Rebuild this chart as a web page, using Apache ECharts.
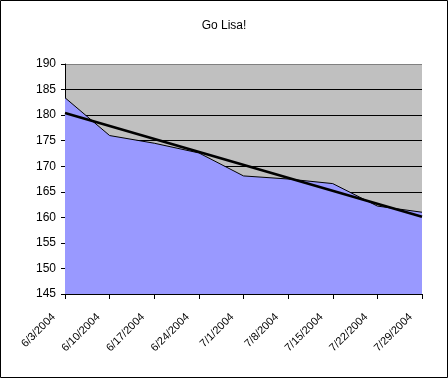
<!DOCTYPE html>
<html>
<head>
<meta charset="utf-8">
<script src="https://cdn.jsdelivr.net/npm/echarts@6/dist/echarts.min.js"></script>
<style>
    body{margin:0;background:#fff;}
    #chart{width:448px;height:378px;}
</style>
</head>
<body>
<div id="chart"></div>
<script>
    // weekly weigh-ins
    var dates = ['6/3/2004','6/10/2004','6/17/2004','6/24/2004','7/1/2004','7/8/2004','7/15/2004','7/22/2004','7/29/2004'];
    var weight = [183.4, 176.0, 174.5, 172.6, 168.1, 167.5, 166.6, 162.2, 161.0];
    // linear trendline end points
    var trendStart = 180.4;
    var trendEnd = 160.1;

    var myChart = echarts.init(document.getElementById('chart'));

    var font = "'Liberation Sans', Arial, sans-serif";

    var option = {
        animation: false,
        title: {
            text: 'Go Lisa!',
            left: 'center',
            top: 15,
            textStyle: {fontFamily: font, fontSize: 12, fontWeight: 'normal', color: '#000'}
        },
        graphic: [{
            type: 'rect',
            shape: {x: 0.5, y: 0.5, width: 447, height: 377},
            style: {fill: 'none', stroke: '#000', lineWidth: 1},
            silent: true
        }],
        grid: {
            left: 65, right: 26, top: 64, bottom: 84,
            show: true,
            backgroundColor: '#C0C0C0',
            borderWidth: 0
        },
        xAxis: {
            type: 'category',
            data: dates,
            boundaryGap: false,
            axisLine: {lineStyle: {color: '#000', width: 1}},
            axisTick: {show: true, length: 5, lineStyle: {color: '#000'}},
            axisLabel: {rotate: 45, fontFamily: font, fontSize: 11, color: '#000', margin: 10, padding: [0, 16, 0, 0]}
        },
        yAxis: {
            type: 'value',
            min: 145, max: 190, interval: 5,
            axisLine: {show: true, lineStyle: {color: '#000', width: 1}},
            axisTick: {show: true, length: 4, lineStyle: {color: '#000'}},
            axisLabel: {fontFamily: font, fontSize: 12, color: '#000', margin: 9},
            splitLine: {
                show: true,
                lineStyle: {color: ['#000','#000','#000','#000','#000','#000','#000','#000','#000','#808080'], width: 1}
            }
        },
        series: [
            {
                name: 'weight',
                type: 'line',
                data: weight,
                symbol: 'none',
                lineStyle: {color: '#000', width: 1},
                areaStyle: {color: '#9999FF', opacity: 1, origin: 'start'}
            },
            {
                name: 'trend',
                type: 'line',
                data: [[dates[0], trendStart], [dates[dates.length - 1], trendEnd]],
                symbol: 'none',
                lineStyle: {color: '#000', width: 2.5}
            }
        ]
    };
    myChart.setOption(option, true);
</script>
</body>
</html>
